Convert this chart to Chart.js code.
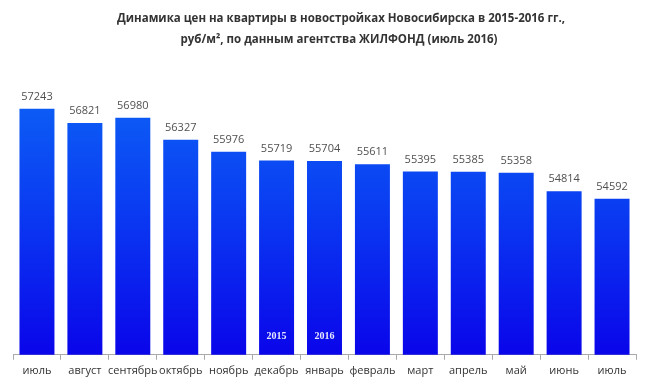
<!DOCTYPE html>
<html><head><meta charset="utf-8">
<script src="https://cdn.jsdelivr.net/npm/chart.js@4"></script>
<style>html,body{margin:0;padding:0;background:#fff;}#wrap{width:650px;height:386px;}</style>
</head><body><div id="wrap"><canvas id="c" width="650" height="386"></canvas></div>
<script>
const categories = ["июль","август","сентябрь","октябрь","ноябрь","декабрь","январь","февраль","март","апрель","май","июнь","июль"];
const prices = [57243,56821,56980,56327,55976,55719,55704,55611,55395,55385,55358,54814,54592];
const yearMarks = [null,null,null,null,null,"2015","2016",null,null,null,null,null,null];
const titleLines = ["Динамика цен на квартиры в новостройках Новосибирска в 2015-2016 гг.,","руб/м², по данным агентства ЖИЛФОНД (июль 2016)"];

const labelPlugin = {
  id:'labels',
  afterDatasetsDraw(chart){
    const ctx = chart.ctx;
    const meta = chart.getDatasetMeta(0);
    ctx.save();
    ctx.textAlign='center';
    ctx.textBaseline='middle';
    meta.data.forEach((bar,i)=>{
      ctx.fillStyle='#505050';
      ctx.font='11px "Open Sans", sans-serif';
      ctx.fillText(String(prices[i]), bar.x, bar.y-12);
      if(yearMarks[i]){
        ctx.fillStyle='#e8e8ff';
        ctx.font='bold 10px "Liberation Serif", serif';
        ctx.fillText(yearMarks[i], bar.x, 336);
      }
    });
    ctx.fillStyle='#333';
    ctx.font='bold 11.5px "Open Sans", sans-serif';
    ctx.fillText(titleLines[0], 341, 19);
    ctx.fillText(titleLines[1], 339, 40);
    ctx.restore();
  }
};

new Chart(document.getElementById('c'),{
  type:'bar',
  data:{labels:categories,datasets:[{data:prices,
    backgroundColor(context){
      const chart=context.chart; const a=chart.chartArea;
      if(!a) return '#1040f0';
      const g=chart.ctx.createLinearGradient(0,a.top,0,a.bottom);
      g.addColorStop(0,'#0d63f6');
      g.addColorStop(0.45,'#0a3df2');
      g.addColorStop(1,'#0a05ea');
      return g;
    },
    borderWidth:0, barPercentage:0.73, categoryPercentage:1}]},
  options:{responsive:false,animation:false,devicePixelRatio:1,
    layout:{padding:{left:13,right:14,top:83,bottom:5}},
    plugins:{legend:{display:false},tooltip:{enabled:false},title:{display:false}},
    scales:{
      y:{display:false,min:50000,max:58000},
      x:{grid:{display:true,drawOnChartArea:false,tickLength:5,color:'#aaa'},
         border:{display:true,color:'#aaa'},
         ticks:{color:'#333',font:{size:11,family:'"Open Sans", sans-serif'},padding:4,maxRotation:0,autoSkip:false}}
    }},
  plugins:[labelPlugin]
});
</script></body></html>
